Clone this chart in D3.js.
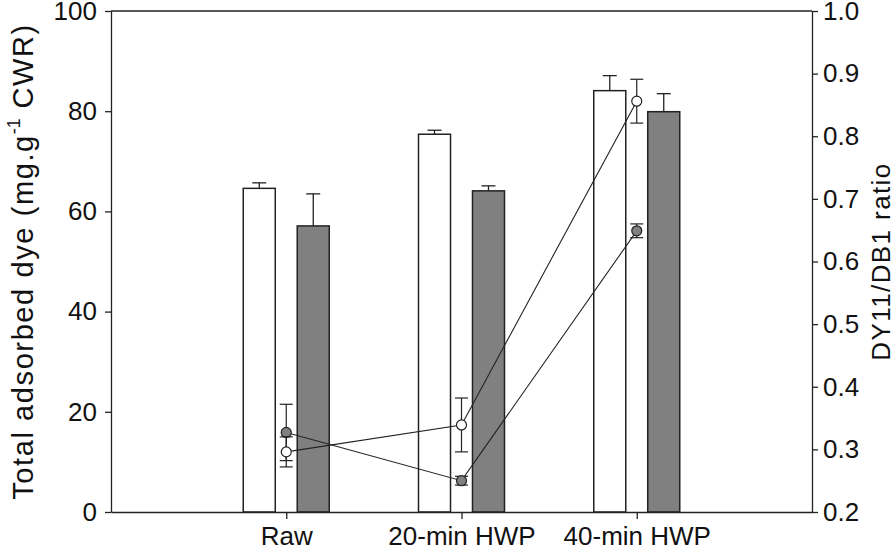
<!DOCTYPE html>
<html>
<head>
<meta charset="utf-8">
<script src="https://cdn.jsdelivr.net/npm/d3@7"></script>
<style>
  body { margin: 0; background: #fff; }
  svg { display: block; font-family: "Liberation Sans", Arial, sans-serif; }
  .axis text { font-size: 26px; fill: #111; }
  .axis path, .axis line { stroke: #222; stroke-width: 1.3; }
</style>
</head>
<body>
<svg id="chart" width="896" height="552"></svg>
<script>
// data
const categories = ["Raw", "20-min HWP", "40-min HWP"];
const barWhite = [64.6, 75.4, 84.1];
const barWhiteErr = [1.1, 0.8, 3.0];
const barGray = [57.1, 64.1, 79.9];
const barGrayErr = [6.4, 1.0, 3.6];
const ratioOpen = [0.296, 0.339, 0.856];
const ratioOpenErr = [0.024, 0.043, 0.035];
const ratioFilled = [0.327, 0.250, 0.649];
const ratioFilledErr = [0.045, 0.007, 0.011];
const leftTicks = [0, 20, 40, 60, 80, 100];
const rightTicks = [0.2, 0.3, 0.4, 0.5, 0.6, 0.7, 0.8, 0.9, 1.0];

const margin = { top: 11, right: 84, bottom: 40, left: 111 };
const width = 896, height = 552;
const svg = d3.select("#chart");

const x = d3.scalePoint()
  .domain(categories)
  .range([margin.left, width - margin.right])
  .padding(1);

// white bar left of the tick, gray bar right of it
const sub = d3.scaleBand()
  .domain(["white", "gray"])
  .range([-43, 43])
  .paddingInner(0.407);

const y = d3.scaleLinear().domain([0, 100]).range([height - margin.bottom, margin.top]);
const y2 = d3.scaleLinear().domain([0.2, 1.0]).range([height - margin.bottom, margin.top]);

const ink = "#222";

// frame top line
svg.append("line")
  .attr("x1", margin.left).attr("x2", width - margin.right)
  .attr("y1", margin.top).attr("y2", margin.top)
  .attr("stroke", ink).attr("stroke-width", 1.3);

// bars
const barSets = [
  { key: "white", vals: barWhite, err: barWhiteErr, fill: "#fff" },
  { key: "gray", vals: barGray, err: barGrayErr, fill: "#808080" }
];
barSets.forEach(s => {
  const g = svg.append("g");
  categories.forEach((c, i) => {
    const bx = x(c) + sub(s.key);
    const bw = sub.bandwidth();
    const cx = bx + bw / 2;
    // error bar (upper only)
    g.append("line").attr("x1", cx).attr("x2", cx)
      .attr("y1", y(s.vals[i])).attr("y2", y(s.vals[i] + s.err[i]))
      .attr("stroke", ink).attr("stroke-width", 1.3);
    g.append("line").attr("x1", cx - 7).attr("x2", cx + 7)
      .attr("y1", y(s.vals[i] + s.err[i])).attr("y2", y(s.vals[i] + s.err[i]))
      .attr("stroke", ink).attr("stroke-width", 1.3);
    g.append("rect")
      .attr("x", bx).attr("width", bw)
      .attr("y", y(s.vals[i])).attr("height", y(0) - y(s.vals[i]))
      .attr("fill", s.fill).attr("stroke", ink).attr("stroke-width", 1.5);
  });
});

// ratio lines
const lineSets = [
  { vals: ratioFilled, err: ratioFilledErr, fill: "#808080" },
  { vals: ratioOpen, err: ratioOpenErr, fill: "#fff" }
];
const line = d3.line().x(d => d[0]).y(d => d[1]);
lineSets.forEach(s => {
  const pts = categories.map((c, i) => [x(c), y2(s.vals[i])]);
  svg.append("path").datum(pts)
    .attr("d", line).attr("fill", "none")
    .attr("stroke", ink).attr("stroke-width", 1.1);
});
lineSets.forEach(s => {
  const g = svg.append("g");
  categories.forEach((c, i) => {
    const cx = x(c);
    const lo = y2(s.vals[i] - s.err[i]), hi = y2(s.vals[i] + s.err[i]);
    g.append("line").attr("x1", cx).attr("x2", cx).attr("y1", lo).attr("y2", hi)
      .attr("stroke", ink).attr("stroke-width", 1.2);
    [lo, hi].forEach(yy => g.append("line")
      .attr("x1", cx - 6.5).attr("x2", cx + 6.5).attr("y1", yy).attr("y2", yy)
      .attr("stroke", ink).attr("stroke-width", 1.2));
  });
  g.selectAll("circle").data(categories).join("circle")
    .attr("cx", c => x(c))
    .attr("cy", (c, i) => y2(s.vals[i]))
    .attr("r", 5)
    .attr("fill", s.fill).attr("stroke", ink).attr("stroke-width", 1.2);
});

// axes
svg.append("g").attr("class", "axis")
  .attr("transform", `translate(0,${height - margin.bottom})`)
  .call(d3.axisBottom(x).tickSize(7).tickPadding(8).tickSizeOuter(0))
  .call(g => g.selectAll("text").attr("dy", "0.71em"));

svg.append("g").attr("class", "axis")
  .attr("transform", `translate(${margin.left},0)`)
  .call(d3.axisLeft(y).tickValues(leftTicks).tickSize(6).tickPadding(8).tickSizeOuter(0));

svg.append("g").attr("class", "axis")
  .attr("transform", `translate(${width - margin.right},0)`)
  .call(d3.axisRight(y2).tickValues(rightTicks).tickFormat(d3.format(".1f")).tickSize(6).tickPadding(5).tickSizeOuter(0));

// axis titles
const midY = (margin.top + height - margin.bottom) / 2;
const lt = svg.append("text")
  .attr("transform", `translate(33,${midY}) rotate(-90)`)
  .attr("text-anchor", "middle")
  .attr("font-size", 29)
  .attr("letter-spacing", 1.6)
  .attr("fill", "#111");
lt.append("tspan").text("Total adsorbed dye (mg.g");
lt.append("tspan").attr("dy", -13).attr("font-size", 18).attr("letter-spacing", 0).text("-1");
lt.append("tspan").attr("dy", 13).text(" CWR)");

svg.append("text")
  .attr("transform", `translate(890,${midY}) rotate(-90)`)
  .attr("text-anchor", "middle")
  .attr("font-size", 26)
  .attr("letter-spacing", 1.4)
  .attr("fill", "#111")
  .text("DY11/DB1 ratio");
</script>
</body>
</html>
